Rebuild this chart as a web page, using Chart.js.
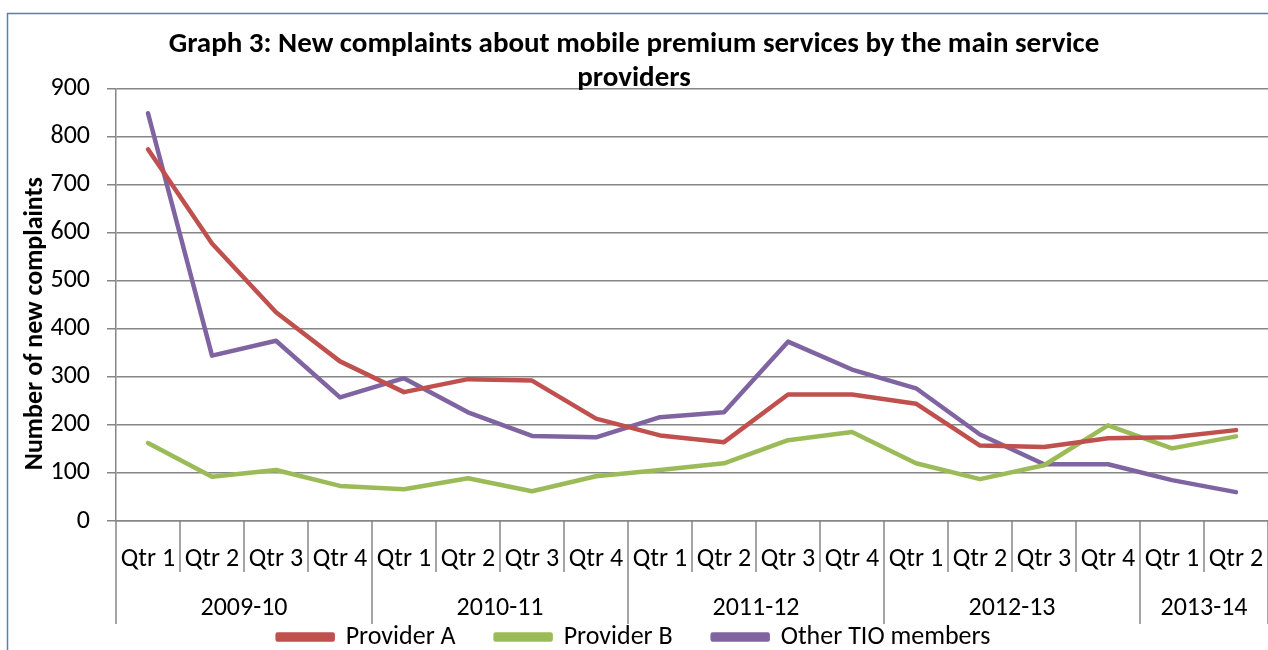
<!DOCTYPE html>
<html>
<head>
<meta charset="utf-8">
<script src="https://cdn.jsdelivr.net/npm/chart.js@4.4.1/dist/chart.umd.min.js"></script>
<style>
  html, body { margin: 0; padding: 0; background: #fff; }
</style>
</head>
<body>
<canvas id="graficoQuejas" width="1268" height="650"></canvas>
<script>
// Datos
const quarters = ['Qtr 1', 'Qtr 2', 'Qtr 3', 'Qtr 4', 'Qtr 1', 'Qtr 2', 'Qtr 3', 'Qtr 4', 'Qtr 1',
  'Qtr 2', 'Qtr 3', 'Qtr 4', 'Qtr 1', 'Qtr 2', 'Qtr 3', 'Qtr 4', 'Qtr 1', 'Qtr 2'];
const years = ['2009-10', '2009-10', '2009-10', '2009-10', '2010-11', '2010-11', '2010-11', '2010-11',
  '2011-12', '2011-12', '2011-12', '2011-12', '2012-13', '2012-13', '2012-13', '2012-13', '2013-14', '2013-14'];
const providerA = [773, 577, 434, 332, 268, 295, 292, 213, 178, 164, 263, 263, 244, 157, 154, 172, 174, 189];
const providerB = [162, 92, 106, 73, 66, 89, 62, 93, 106, 120, 168, 185, 120, 87, 116, 199, 151, 176];
const otherTio = [848, 344, 375, 257, 297, 226, 177, 174, 216, 226, 373, 315, 276, 180, 118, 118, 85, 60];
const yTicks = [0, 100, 200, 300, 400, 500, 600, 700, 800, 900];
const yTitulo = 'Number of new complaints';

const fuente = 'Carlito, Lato, sans-serif';
const gris = '#868686';

// Marco, titulo del eje Y y eje de categorias en dos niveles (trimestre / ejercicio)
const ejeCategorias = {
  id: 'ejeCategorias',
  beforeDraw(chart) {
    const ctx = chart.ctx;
    ctx.save();
    ctx.strokeStyle = '#4F81BD';
    ctx.lineWidth = 1.5;
    ctx.beginPath();
    ctx.moveTo(7.5, chart.height);
    ctx.lineTo(7.5, 13.5);
    ctx.lineTo(chart.width, 13.5);
    ctx.stroke();
    ctx.restore();
  },
  afterDraw(chart) {
    const x = chart.scales.x;
    const area = chart.chartArea;
    const ctx = chart.ctx;
    const half = (x.getPixelForValue(1) - x.getPixelForValue(0)) / 2;
    ctx.save();
    ctx.strokeStyle = gris;
    ctx.lineWidth = 1.5;
    ctx.fillStyle = '#000';
    ctx.font = '26px ' + fuente;
    ctx.textAlign = 'center';
    ctx.textBaseline = 'middle';
    let inicio = x.getPixelForValue(0) - half;
    for (let i = 0; i <= quarters.length; i++) {
      const px = i < quarters.length ? x.getPixelForValue(i) - half : x.getPixelForValue(i - 1) + half;
      const corte = i === 0 || i === quarters.length || years[i] !== years[i - 1];
      ctx.beginPath();
      ctx.moveTo(px, area.bottom);
      ctx.lineTo(px, area.bottom + (corte ? 103 : 51));
      ctx.stroke();
      if (corte && i > 0) {
        ctx.fillText(years[i - 1], (inicio + px) / 2, area.bottom + 87);
        inicio = px;
      }
    }
    // titulo del eje Y (algo por debajo del centro, como en Excel)
    ctx.translate(35, (area.top + area.bottom) / 2 + 19);
    ctx.rotate(-Math.PI / 2);
    ctx.font = 'bold 26px ' + fuente;
    ctx.fillText(yTitulo, 0, 0);
    ctx.restore();
  }
};

new Chart(document.getElementById('graficoQuejas'), {
  type: 'line',
  data: {
    labels: quarters,
    datasets: [
      { label: 'Provider A', data: providerA, borderColor: '#C0504D', backgroundColor: '#C0504D' },
      { label: 'Provider B', data: providerB, borderColor: '#9BBB59', backgroundColor: '#9BBB59' },
      { label: 'Other TIO members', data: otherTio, borderColor: '#8064A2', backgroundColor: '#8064A2' }
    ]
  },
  options: {
    responsive: false,
    animation: false,
    elements: {
      line: { borderWidth: 4.5, tension: 0, fill: false, borderCapStyle: 'round', borderJoinStyle: 'round' },
      point: { radius: 0, hoverRadius: 0 }
    },
    layout: { padding: { left: 0, right: 0, top: 0, bottom: 0 } },
    plugins: {
      title: {
        display: true,
        text: ['Graph 3: New complaints about mobile premium services by the main service', 'providers'],
        color: '#000',
        font: { family: fuente, size: 29, weight: 'bold', lineHeight: 1.16 },
        padding: { top: 28, bottom: -7 }
      },
      legend: {
        position: 'bottom',
        maxHeight: 66,
        labels: { color: '#000', boxWidth: 55, boxHeight: 5, padding: 40, font: { family: fuente, size: 26 } }
      },
      tooltip: { enabled: false }
    },
    scales: {
      x: {
        offset: true,
        grid: { display: false },
        border: { color: gris, width: 1.5 },
        ticks: { color: '#000', padding: 15, autoSkip: false, maxRotation: 0, font: { family: fuente, size: 26 } },
        afterFit(s) { s.height = 63; s.paddingLeft = 0; s.paddingRight = 0; }
      },
      y: {
        min: 0,
        max: 900,
        afterBuildTicks(s) { s.ticks = yTicks.map(v => ({ value: v })); },
        afterFit(s) { s.width = 116; },
        grid: { color: gris, lineWidth: 1.5, tickLength: 9 },
        border: { color: gris, width: 1.5 },
        ticks: { color: '#000', padding: 17, font: { family: fuente, size: 26 } }
      }
    }
  },
  plugins: [ejeCategorias]
});
</script>
</body>
</html>
